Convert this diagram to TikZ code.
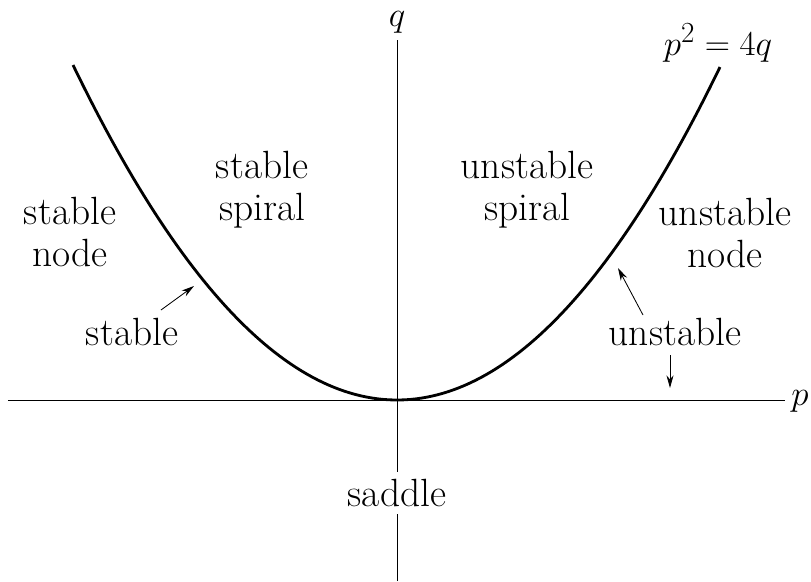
\documentclass[tikz,border=0pt]{standalone}
\usetikzlibrary{arrows.meta}

\begin{document}
\begin{tikzpicture}[x=0.025cm,y=0.025cm,
    font=\fontsize{28}{30}\selectfont,
    axis/.style={line width=0.7pt},
    curve/.style={line width=2pt},
    pointer/.style={-{Stealth[length=9pt,width=5pt]},line width=0.6pt},
    region/.style={align=center}]
  \useasboundingbox (-397,-181) rectangle (414,400);
  % axes
  \draw[axis] (-389,0) -- (388,0);
  \draw[axis] (0,-181) -- (0,360);
  \node (plabel) at (403,-1) {$p$};
  \node[inner sep=0pt] (qlabel) at (0,378) {$q$};
  % boundary curve
  \draw[curve,domain=-324:323,samples=120] plot (\x,{0.3191*(\x/10)*(\x/10)});
  \node (eqn) at (321,357) {$p^2=4q$};
  % regions
  \node[region] (snode) at (-327,168) {stable\\node};
  \node[region] (sspiral) at (-135,210) {stable\\spiral};
  \node[region] (uspiral) at (130,210) {unstable\\spiral};
  \node[region] (unode) at (328,167) {unstable\\node};
  \node[fill=white,inner sep=5pt] (saddle) at (0,-93) {saddle};
  % boundary labels
  \node (stable) at (-265,68) {stable};
  \node (unstable) at (278,68) {unstable};
  \coordinate (sfrom) at (-236,90);
  \coordinate (sto) at (-203,114);
  \coordinate (ufrom) at (246,85);
  \coordinate (uto) at (221,132);
  \coordinate (dfrom) at (273,45);
  \coordinate (dto) at (273,12);
  \draw[pointer] (sfrom) -- (sto);
  \draw[pointer] (ufrom) -- (uto);
  \draw[pointer] (dfrom) -- (dto);
\end{tikzpicture}
\end{document}
